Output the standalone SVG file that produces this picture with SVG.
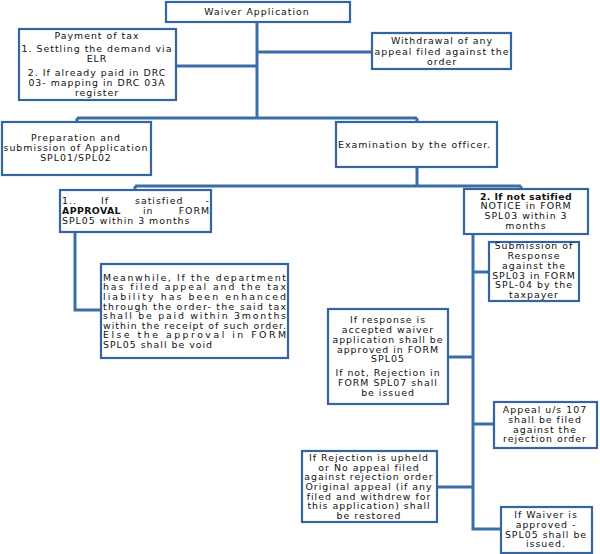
<svg xmlns="http://www.w3.org/2000/svg" width="600" height="554" viewBox="0 0 600 554">
<style>
.box{fill:#fff;stroke:#3565a0;stroke-width:2.2}
.con{fill:none;stroke:#3b6ca6;stroke-width:3}
text{font-family:"DejaVu Sans","Liberation Sans",sans-serif;font-size:9.4px;fill:#111;letter-spacing:1px}
.c{text-anchor:middle}
.b{font-weight:bold;letter-spacing:0.4px}
</style>
<rect width="600" height="554" fill="#fff"/>
<g id="connectors">
<path class="con" d="M257,22 V118 M257,52 H372 M257,66 H176 M77,118 H417 M77,118 V122 M417,118 V122"/>
<path class="con" d="M417,167 V186 M135,186 H521 M135,186 V190 M521,186 V189"/>
<path class="con" d="M75,232 V310 H101"/>
<path class="con" d="M473,234 V529 H501 M473,272 H489 M473,357 H448 M473,424 H494 M473,487 H437"/>
</g>
<g id="waiver">
<rect class="box" x="166" y="2" width="184" height="20"/>
<text class="c" x="257" y="15">Waiver Application</text>
</g>
<g id="payment">
<rect class="box" x="19" y="29" width="157" height="71"/>
<text class="c" x="97" y="38.5">Payment of tax</text>
<text class="c" x="97" y="52">1. Settling the demand via</text>
<text class="c" x="97" y="62">ELR</text>
<text class="c" x="97" y="75.5">2. If already paid in DRC</text>
<text class="c" x="97" y="85.5">03- mapping in DRC 03A</text>
<text class="c" x="97" y="95.5">register</text>
</g>
<g id="withdrawal">
<rect class="box" x="372" y="33" width="139" height="36"/>
<text class="c" x="442" y="44">Withdrawal of any</text>
<text class="c" x="442" y="54.5">appeal filed against the</text>
<text class="c" x="442" y="64.5">order</text>
</g>
<g id="preparation">
<rect class="box" x="2" y="122" width="149" height="53"/>
<text class="c" x="76" y="141">Preparation and</text>
<text class="c" x="76" y="151">submission of Application</text>
<text class="c" x="76" y="161">SPL01/SPL02</text>
</g>
<g id="examination">
<rect class="box" x="336" y="122" width="161" height="45"/>
<text x="338" y="147.5">Examination by the officer.</text>
</g>
<g id="satisfied">
<rect class="box" x="60" y="190" width="151" height="42"/>
<text x="62" y="204">1..</text><text x="101" y="204">If</text><text x="135" y="204">satisfied</text><text x="210" y="204" text-anchor="end">-</text>
<text x="62" y="214" class="b">APPROVAL</text><text x="143" y="214">in</text><text x="210" y="214" text-anchor="end">FORM</text>
<text x="62" y="224">SPL05 within 3 months</text>
</g>
<g id="notsatisfied">
<rect class="box" x="464" y="189" width="124" height="45"/>
<text class="c b" x="526" y="199.5">2. If not satified</text>
<text class="c" x="526" y="209">NOTICE in FORM</text>
<text class="c" x="526" y="219">SPL03 within 3</text>
<text class="c" x="526" y="229">months</text>
</g>
<g id="meanwhile">
<rect class="box" x="101" y="264" width="187" height="94"/>
<text x="103" y="280.5" textLength="184" lengthAdjust="spacing">Meanwhile, If the department</text>
<text x="103" y="290" textLength="184" lengthAdjust="spacing">has filed appeal and the tax</text>
<text x="103" y="299.5" textLength="184" lengthAdjust="spacing">liability has been enhanced</text>
<text x="103" y="309.5" textLength="184" lengthAdjust="spacing">through the order- the said tax</text>
<text x="103" y="319" textLength="184" lengthAdjust="spacing">shall be paid within 3months</text>
<text x="103" y="328.5" textLength="184" lengthAdjust="spacing">within the receipt of such order.</text>
<text x="103" y="338" textLength="184" lengthAdjust="spacing">Else the approval in FORM</text>
<text x="103" y="348">SPL05 shall be void</text>
</g>
<g id="submission">
<rect class="box" x="489" y="242" width="90" height="59"/>
<text class="c" x="534" y="249">Submission of</text>
<text class="c" x="534" y="259">Response</text>
<text class="c" x="534" y="268.5">against the</text>
<text class="c" x="534" y="278.5">SPL03 in FORM</text>
<text class="c" x="534" y="288">SPL-04 by the</text>
<text class="c" x="534" y="298">taxpayer</text>
</g>
<g id="response">
<rect class="box" x="328" y="309" width="120" height="95"/>
<text class="c" x="388" y="323">If response is</text>
<text class="c" x="388" y="333">accepted waiver</text>
<text class="c" x="388" y="343">application shall be</text>
<text class="c" x="388" y="352.5">approved in FORM</text>
<text class="c" x="388" y="362">SPL05</text>
<text class="c" x="388" y="376">If not, Rejection in</text>
<text class="c" x="388" y="386">FORM SPL07 shall</text>
<text class="c" x="388" y="395.5">be issued</text>
</g>
<g id="appeal">
<rect class="box" x="494" y="402" width="103" height="46"/>
<text class="c" x="545" y="413">Appeal u/s 107</text>
<text class="c" x="545" y="422.5">shall be filed</text>
<text class="c" x="545" y="432.5">against the</text>
<text class="c" x="545" y="442">rejection order</text>
</g>
<g id="rejection">
<rect class="box" x="302" y="451" width="135" height="71"/>
<text class="c" x="369" y="461">If Rejection is upheld</text>
<text class="c" x="369" y="470.5">or No appeal filed</text>
<text class="c" x="369" y="480">against rejection order</text>
<text class="c" x="369" y="490">Original appeal (if any</text>
<text class="c" x="369" y="499.5">filed and withdrew for</text>
<text class="c" x="369" y="509">this application) shall</text>
<text class="c" x="369" y="519">be restored</text>
</g>
<g id="approved">
<rect class="box" x="501" y="507" width="91" height="46"/>
<text class="c" x="546" y="518">If Waiver is</text>
<text class="c" x="546" y="527.5">approved -</text>
<text class="c" x="546" y="537.5">SPL05 shall be</text>
<text class="c" x="546" y="547">issued.</text>
</g>
</svg>
